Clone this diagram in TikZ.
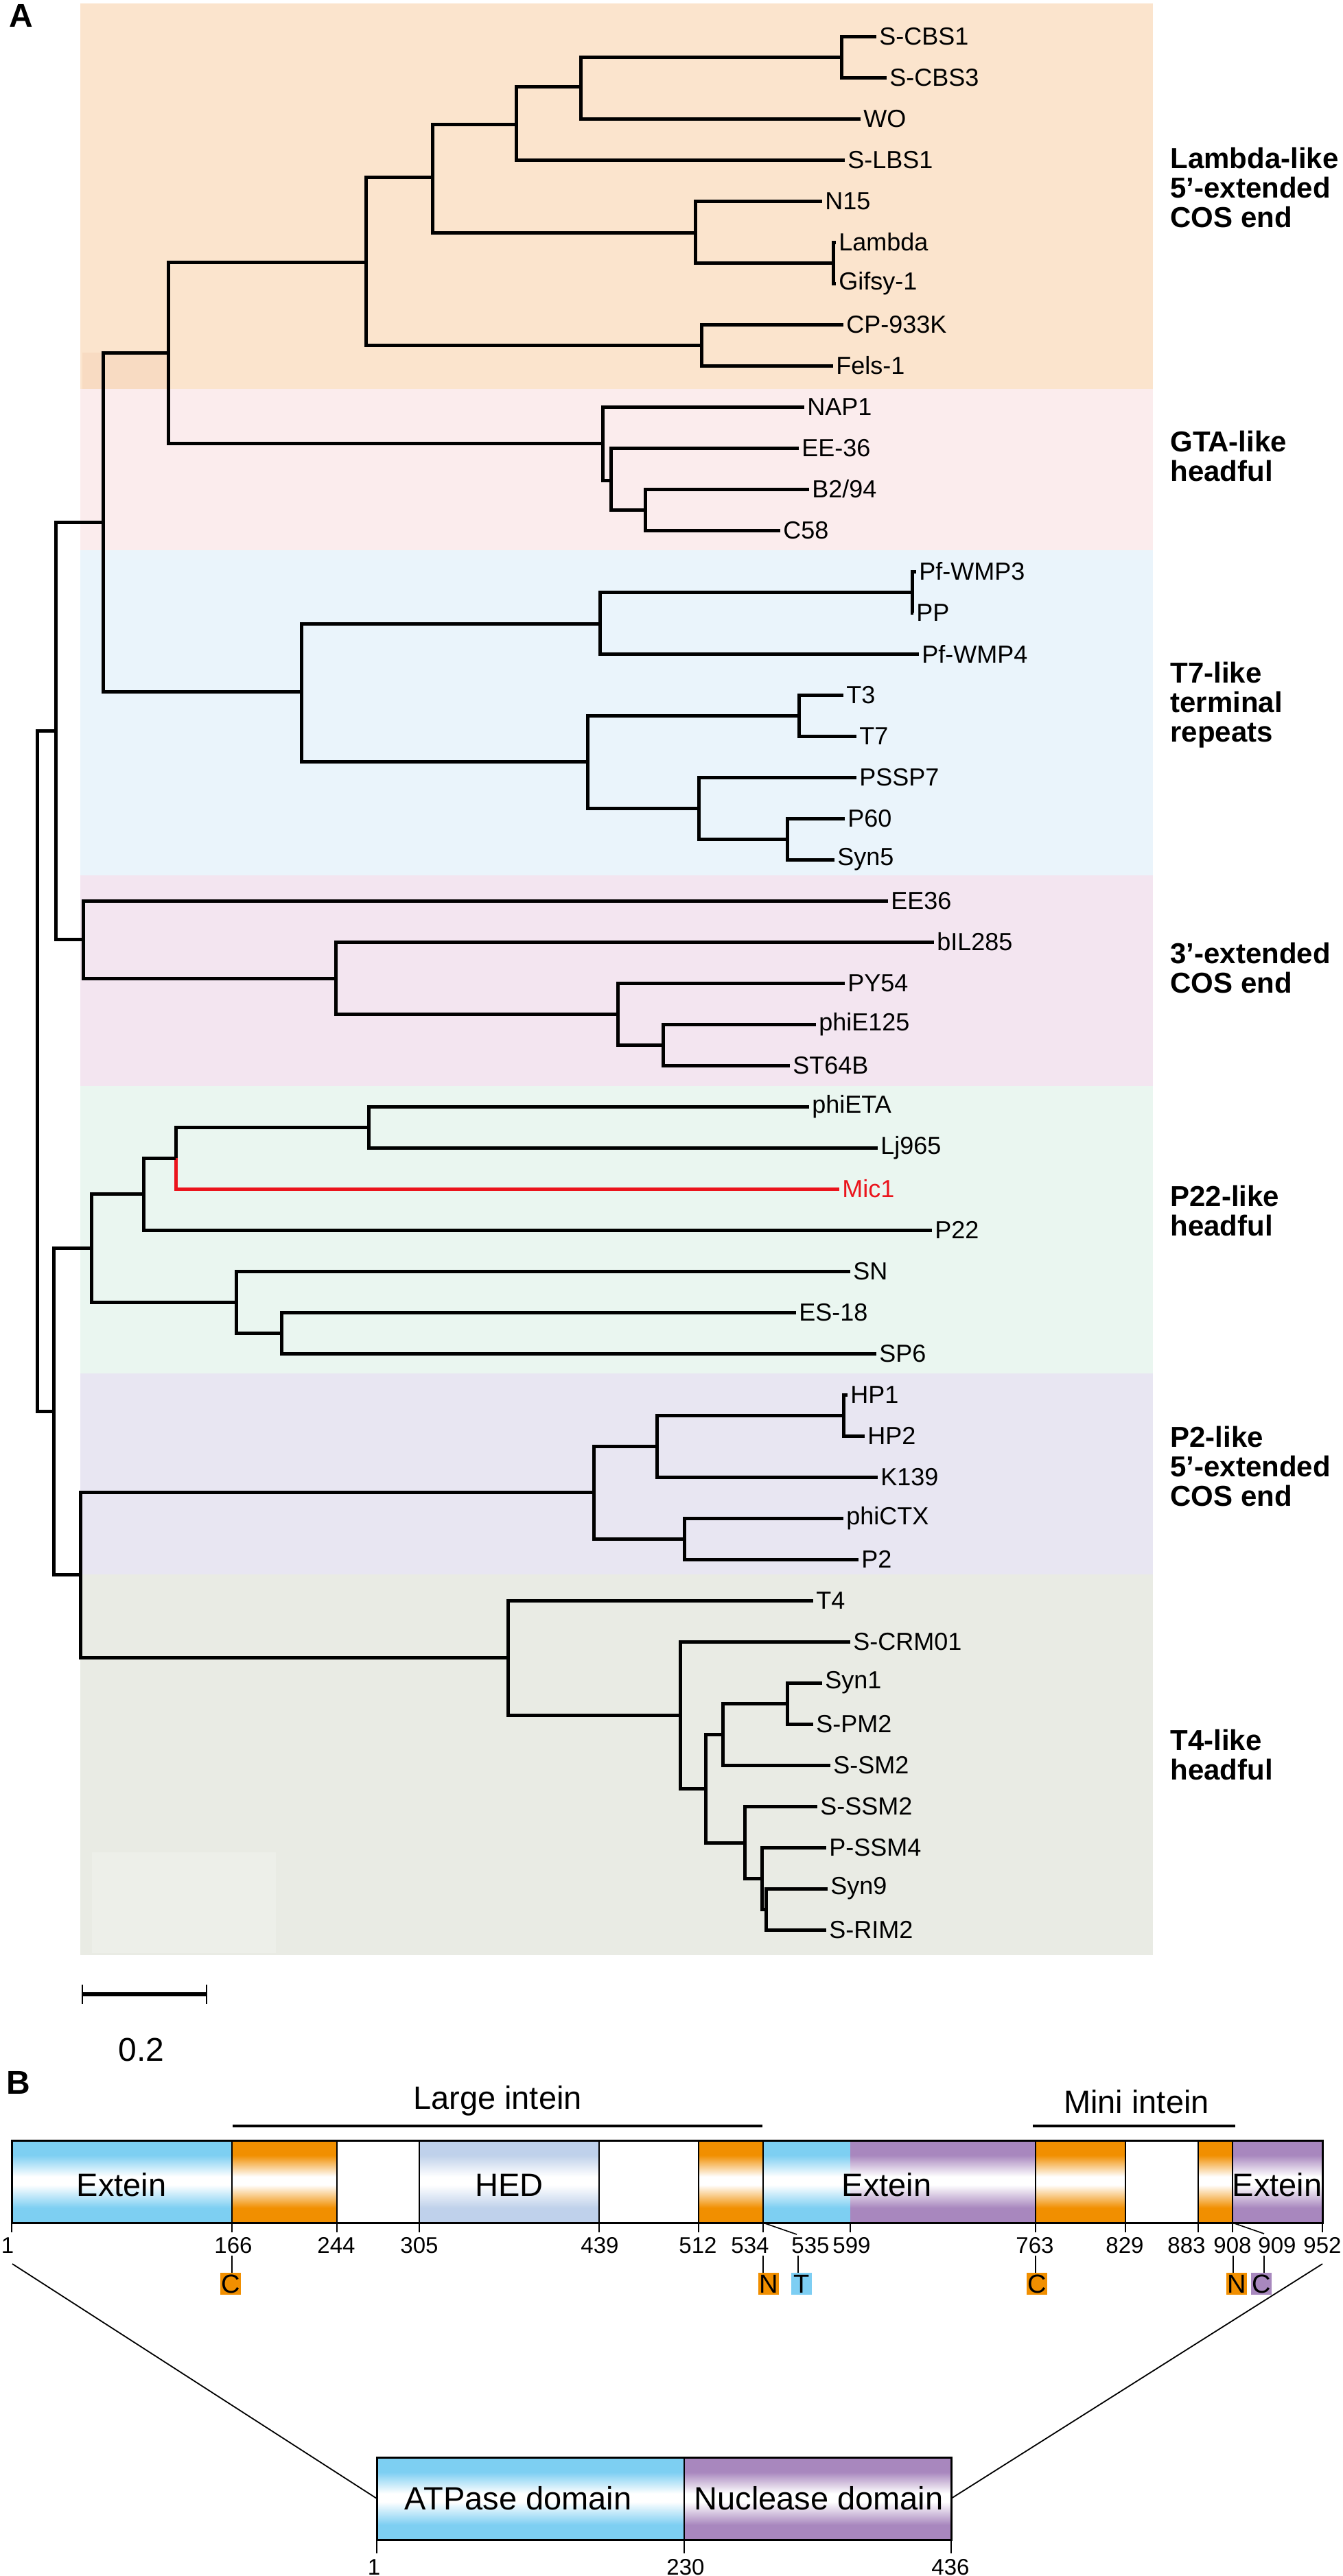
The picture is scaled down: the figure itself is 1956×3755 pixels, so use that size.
\documentclass[tikz,border=0pt]{standalone}
\usepackage{fontspec}
\setmainfont{Liberation Sans}
\definecolor{bandL}{RGB}{251,228,205}
\definecolor{bandLd}{RGB}{248,219,194}
\definecolor{bandG}{RGB}{251,236,237}
\definecolor{bandT}{RGB}{234,244,251}
\definecolor{bandE}{RGB}{243,229,240}
\definecolor{bandP}{RGB}{234,246,240}
\definecolor{bandQ}{RGB}{232,230,242}
\definecolor{bandR}{RGB}{233,235,228}
\definecolor{bandRl}{RGB}{237,239,233}
\definecolor{corange}{RGB}{241,143,0}
\definecolor{cblue}{RGB}{125,206,243}
\definecolor{cpurple}{RGB}{168,136,190}
\definecolor{micred}{RGB}{235,20,28}
\pgfdeclareverticalshading{shblue}{100bp}{rgb(0bp)=(0.49,0.81,0.95); rgb(34bp)=(0.49,0.81,0.95); rgb(48bp)=(1,1,1); rgb(53bp)=(1,1,1); rgb(66bp)=(0.49,0.81,0.95); rgb(100bp)=(0.49,0.81,0.95)}
\pgfdeclareverticalshading{shorange}{100bp}{rgb(0bp)=(0.945,0.56,0); rgb(34bp)=(0.945,0.56,0); rgb(48bp)=(1,1,1); rgb(53bp)=(1,1,1); rgb(66bp)=(0.945,0.56,0); rgb(100bp)=(0.945,0.56,0)}
\pgfdeclareverticalshading{shhed}{100bp}{rgb(0bp)=(0.75,0.82,0.92); rgb(34bp)=(0.75,0.82,0.92); rgb(48bp)=(1,1,1); rgb(53bp)=(1,1,1); rgb(66bp)=(0.75,0.82,0.92); rgb(100bp)=(0.75,0.82,0.92)}
\pgfdeclareverticalshading{shpurple}{100bp}{rgb(0bp)=(0.66,0.53,0.745); rgb(34bp)=(0.66,0.53,0.745); rgb(48bp)=(1,1,1); rgb(53bp)=(1,1,1); rgb(66bp)=(0.66,0.53,0.745); rgb(100bp)=(0.66,0.53,0.745)}
\begin{document}
\begin{tikzpicture}[x=0.5pt,y=-0.5pt,
  br/.style={line width=2.5pt, line join=miter},
  leaf/.style={anchor=west, inner xsep=2pt, inner ysep=0pt, font=\fontsize{18}{20}\selectfont},
  grp/.style={anchor=west, align=left, inner sep=0pt, font=\fontsize{21}{21.5}\selectfont\bfseries},
  num/.style={inner sep=0pt, font=\fontsize{16.5}{17}\selectfont},
  blab/.style={inner sep=0pt, font=\fontsize{23.5}{23.5}\selectfont},
  lbox/.style={inner sep=0pt, minimum width=15pt, minimum height=16pt, text height=13.6pt, text depth=0pt, font=\fontsize{19}{19}\selectfont},
  tk/.style={line width=0.8pt},
  panel/.style={inner sep=0pt, font=\fontsize{24}{24}\selectfont\bfseries}]
\useasboundingbox (0,0) rectangle (1956,3755);
% ---------- bands ----------
\fill[bandL] (117,5) rectangle (1680,567);
\fill[bandLd] (120,514) rectangle (245,567);
\fill[bandG] (117,567) rectangle (1680,802);
\fill[bandT] (117,802) rectangle (1680,1276);
\fill[bandE] (117,1276) rectangle (1680,1583);
\fill[bandP] (117,1583) rectangle (1680,2002);
\fill[bandQ] (117,2002) rectangle (1680,2295);
\fill[bandR] (117,2295) rectangle (1680,2850);
\fill[bandRl] (134,2700) rectangle (402,2847);
\node[panel] (A) at (31,23) {A};
% ---------- leaves ----------
\node[leaf] (l0) at (1277,53) {S-CBS1};
\node[leaf] (l1) at (1292,113) {S-CBS3};
\node[leaf] (l2) at (1254,173) {WO};
\node[leaf] (l3) at (1231,233) {S-LBS1};
\node[leaf] (l4) at (1198,293) {N15};
\node[leaf] (l5) at (1218,353) {Lambda};
\node[leaf] (l6) at (1218,413) {Gifsy-1};
\node[leaf] (l7) at (1229,473) {CP-933K};
\node[leaf] (l8) at (1214,533) {Fels-1};
\node[leaf] (l9) at (1172,593) {NAP1};
\node[leaf] (l10) at (1164,653) {EE-36};
\node[leaf] (l11) at (1179,713) {B2/94};
\node[leaf] (l12) at (1137,773) {C58};
\node[leaf] (l13) at (1335,833) {Pf-WMP3};
\node[leaf] (l14) at (1331,893) {PP};
\node[leaf] (l15) at (1339,953) {Pf-WMP4};
\node[leaf] (l16) at (1229,1013) {T3};
\node[leaf] (l17) at (1248,1073) {T7};
\node[leaf] (l18) at (1248,1133) {PSSP7};
\node[leaf] (l19) at (1231,1193) {P60};
\node[leaf] (l20) at (1216,1253) {Syn5};
\node[leaf] (l21) at (1294,1313) {EE36};
\node[leaf] (l22) at (1361,1373) {bIL285};
\node[leaf] (l23) at (1231,1433) {PY54};
\node[leaf] (l24) at (1189,1493) {phiE125};
\node[leaf] (l25) at (1151,1553) {ST64B};
\node[leaf] (l26) at (1179,1613) {phiETA};
\node[leaf] (l27) at (1279,1673) {Lj965};
\node[leaf, text=micred] (l28) at (1223,1733) {Mic1};
\node[leaf] (l29) at (1358,1793) {P22};
\node[leaf] (l30) at (1239,1853) {SN};
\node[leaf] (l31) at (1160,1913) {ES-18};
\node[leaf] (l32) at (1277,1973) {SP6};
\node[leaf] (l33) at (1235,2033) {HP1};
\node[leaf] (l34) at (1260,2093) {HP2};
\node[leaf] (l35) at (1279,2153) {K139};
\node[leaf] (l36) at (1229,2213) {phiCTX};
\node[leaf] (l37) at (1251,2273) {P2};
\node[leaf] (l38) at (1185,2333) {T4};
\node[leaf] (l39) at (1239,2393) {S-CRM01};
\node[leaf] (l40) at (1198,2453) {Syn1};
\node[leaf] (l41) at (1185,2513) {S-PM2};
\node[leaf] (l42) at (1210,2573) {S-SM2};
\node[leaf] (l43) at (1191,2633) {S-SSM2};
\node[leaf] (l44) at (1204,2693) {P-SSM4};
\node[leaf] (l45) at (1206,2753) {Syn9};
\node[leaf] (l46) at (1204,2813) {S-RIM2};
% ---------- internal nodes ----------
\coordinate (c1) at (1226,83);
\coordinate (c2) at (846,126);
\coordinate (c3) at (752,181);
\coordinate (c4) at (1214,383);
\coordinate (c5) at (1013,339);
\coordinate (c6) at (630,258);
\coordinate (c7) at (1022,503);
\coordinate (c8) at (533,382);
\coordinate (g1) at (940,743);
\coordinate (g2) at (890,700);
\coordinate (g3) at (878,646);
\coordinate (lg) at (245,514);
\coordinate (t1) at (1329,863);
\coordinate (t2) at (874,909);
\coordinate (t3) at (1164,1043);
\coordinate (t4) at (1147,1223);
\coordinate (t5) at (1018,1178);
\coordinate (t6) at (856,1110);
\coordinate (t7) at (439,1008);
\coordinate (a1) at (150,761);
\coordinate (e1) at (966,1523);
\coordinate (e2) at (900,1478);
\coordinate (e3) at (489,1426);
\coordinate (e4) at (121,1369);
\coordinate (a2) at (81,1065);
\coordinate (p1) at (537,1643);
\coordinate (p2) at (256,1688);
\coordinate (p3) at (209,1740);
\coordinate (p4) at (410,1943);
\coordinate (p5) at (344,1898);
\coordinate (p6) at (133,1819);
\coordinate (q1) at (1229,2063);
\coordinate (q2) at (957,2108);
\coordinate (q3) at (997,2243);
\coordinate (q4) at (865,2175);
\coordinate (r1) at (1147,2483);
\coordinate (r2) at (1053,2528);
\coordinate (r3) at (1116,2783);
\coordinate (r4) at (1110,2738);
\coordinate (r5) at (1085,2686);
\coordinate (r6) at (1028,2607);
\coordinate (r7) at (991,2500);
\coordinate (r8) at (740,2416);
\coordinate (b1) at (117,2295);
\coordinate (b2) at (78,2057);
\coordinate (root) at (54,1561);
% ---------- branches ----------
\draw[br] (c1) |- (l0.west); \draw[br] (c1) |- (l1.west);
\draw[br] (c2) |- (c1); \draw[br] (c2) |- (l2.west);
\draw[br] (c3) |- (c2); \draw[br] (c3) |- (l3.west);
\draw[br] (c4) |- (l5.west); \draw[br] (c4) |- (l6.west);
\draw[br] (c5) |- (l4.west); \draw[br] (c5) |- (c4);
\draw[br] (c6) |- (c3); \draw[br] (c6) |- (c5);
\draw[br] (c7) |- (l7.west); \draw[br] (c7) |- (l8.west);
\draw[br] (c8) |- (c6); \draw[br] (c8) |- (c7);
\draw[br] (g1) |- (l11.west); \draw[br] (g1) |- (l12.west);
\draw[br] (g2) |- (l10.west); \draw[br] (g2) |- (g1);
\draw[br] (g3) |- (l9.west); \draw[br] (g3) |- (g2);
\draw[br] (lg) |- (c8); \draw[br] (lg) |- (g3);
\draw[br] (t1) |- (l13.west); \draw[br] (t1) |- (l14.west);
\draw[br] (t2) |- (t1); \draw[br] (t2) |- (l15.west);
\draw[br] (t3) |- (l16.west); \draw[br] (t3) |- (l17.west);
\draw[br] (t4) |- (l19.west); \draw[br] (t4) |- (l20.west);
\draw[br] (t5) |- (l18.west); \draw[br] (t5) |- (t4);
\draw[br] (t6) |- (t3); \draw[br] (t6) |- (t5);
\draw[br] (t7) |- (t2); \draw[br] (t7) |- (t6);
\draw[br] (a1) |- (lg); \draw[br] (a1) |- (t7);
\draw[br] (e1) |- (l24.west); \draw[br] (e1) |- (l25.west);
\draw[br] (e2) |- (l23.west); \draw[br] (e2) |- (e1);
\draw[br] (e3) |- (l22.west); \draw[br] (e3) |- (e2);
\draw[br] (e4) |- (l21.west); \draw[br] (e4) |- (e3);
\draw[br] (a2) |- (a1); \draw[br] (a2) |- (e4);
\draw[br] (p1) |- (l26.west); \draw[br] (p1) |- (l27.west);
\draw[br] (p2) |- (p1); \draw[br, draw=micred] (p2) |- (l28.west);
\draw[br] (p3) |- (p2); \draw[br] (p3) |- (l29.west);
\draw[br] (p4) |- (l31.west); \draw[br] (p4) |- (l32.west);
\draw[br] (p5) |- (l30.west); \draw[br] (p5) |- (p4);
\draw[br] (p6) |- (p3); \draw[br] (p6) |- (p5);
\draw[br] (q1) |- (l33.west); \draw[br] (q1) |- (l34.west);
\draw[br] (q2) |- (q1); \draw[br] (q2) |- (l35.west);
\draw[br] (q3) |- (l36.west); \draw[br] (q3) |- (l37.west);
\draw[br] (q4) |- (q2); \draw[br] (q4) |- (q3);
\draw[br] (r1) |- (l40.west); \draw[br] (r1) |- (l41.west);
\draw[br] (r2) |- (r1); \draw[br] (r2) |- (l42.west);
\draw[br] (r3) |- (l45.west); \draw[br] (r3) |- (l46.west);
\draw[br] (r4) |- (l44.west); \draw[br] (r4) |- (r3);
\draw[br] (r5) |- (l43.west); \draw[br] (r5) |- (r4);
\draw[br] (r6) |- (r2); \draw[br] (r6) |- (r5);
\draw[br] (r7) |- (l39.west); \draw[br] (r7) |- (r6);
\draw[br] (r8) |- (l38.west); \draw[br] (r8) |- (r7);
\draw[br] (b1) |- (q4); \draw[br] (b1) |- (r8);
\draw[br] (b2) |- (p6); \draw[br] (b2) |- (b1);
\draw[br] (root) |- (a2); \draw[br] (root) |- (b2);
% ---------- group labels ----------
\node[grp] (gL) at (1705,273) {Lambda-like\\5’-extended\\COS end};
\node[grp] (gG) at (1705,665) {GTA-like\\headful};
\node[grp] (gT) at (1705,1028) {T7-like\\terminal\\repeats};
\node[grp] (gE) at (1705,1411) {3’-extended\\COS end};
\node[grp] (gP) at (1705,1765) {P22-like\\headful};
\node[grp] (gQ) at (1705,2137) {P2-like\\5’-extended\\COS end};
\node[grp] (gR) at (1705,2558) {T4-like\\headful};
% ---------- scale bar ----------
\coordinate (sb1) at (120,2907);
\coordinate (sb2) at (301,2907);
\draw[line width=3.2pt] (sb1) -- (sb2);
\draw[line width=1pt] ([yshift=7pt]sb1) -- ([yshift=-7pt]sb1);
\draw[line width=1pt] ([yshift=7pt]sb2) -- ([yshift=-7pt]sb2);
\node[inner sep=0pt, font=\fontsize{24}{24}\selectfont] (sbl) at (206,2988) {0.2};
% ================= Panel B =================
\node[panel] (B) at (27,3036) {B};
\draw[line width=1.7pt] (339,3099) -- (1111,3099);
\node[blab, anchor=base] (li) at (725,3074) {Large intein};
\draw[line width=1.7pt] (1505,3099) -- (1800,3099);
\node[blab, anchor=base] (mi) at (1656,3080) {Mini intein};
\foreach \a/\b/\s in {17/338/shblue, 338/491/shorange, 611/873/shhed, 1018/1112/shorange, 1112/1239/shblue, 1239/1509/shpurple, 1509/1640/shorange, 1746/1796/shorange, 1796/1927/shpurple}
  \shade[shading=\s] (\a,3120) rectangle (\b,3240);
\foreach \x in {338,491,611,873,1018,1112,1509,1640,1746,1796}
  \draw[line width=1pt] (\x,3120) -- (\x,3240);
\draw[line width=1.5pt] (17,3120) rectangle (1927,3240);
\node[blab] (x1) at (177,3185) {Extein};
\node[blab] (hed) at (742,3185) {HED};
\node[blab] (x2) at (1292,3185) {Extein};
\node[blab] (x3) at (1861,3185) {Extein};
% ticks
\foreach \x in {17,338,491,611,873,1018,1112,1239,1509,1640,1746,1796,1927}
  \draw[tk] (\x,3240) -- (\x,3254);
\draw[tk] (1112,3240) -- (1161,3257);
\draw[tk] (1796,3240) -- (1842,3256);
% numbers
\node[num] (n1) at (11,3273) {1};
\node[num] (n166) at (340,3273) {166};
\node[num] (n244) at (490,3273) {244};
\node[num] (n305) at (611,3273) {305};
\node[num] (n439) at (874,3273) {439};
\node[num] (n512) at (1017,3273) {512};
\node[num] (n534) at (1093,3273) {534};
\node[num] (n535) at (1181,3273) {535};
\node[num] (n599) at (1241,3273) {599};
\node[num] (n763) at (1508,3273) {763};
\node[num] (n829) at (1639,3273) {829};
\node[num] (n883) at (1729,3273) {883};
\node[num] (n908) at (1796,3273) {908};
\node[num] (n909) at (1861,3273) {909};
\node[num] (n952) at (1927,3273) {952};
% letter boxes
\node[lbox, fill=corange] (bC1) at (336,3329) {C};
\node[lbox, fill=corange] (bN1) at (1120,3329) {N};
\node[lbox, fill=cblue] (bT) at (1168,3329) {T};
\node[lbox, fill=corange] (bC2) at (1511,3329) {C};
\node[lbox, fill=corange] (bN2) at (1802,3329) {N};
\node[lbox, fill=cpurple] (bC3) at (1838,3329) {C};
\draw[tk] (338,3288) -- (338,3313);
\draw[tk] (1112,3288) -- (1112,3313);
\draw[tk] (1163,3288) -- (1163,3313);
\draw[tk] (1509,3288) -- (1509,3313);
\draw[tk] (1797,3288) -- (1797,3313);
\draw[tk] (1842,3288) -- (1842,3313);
% bottom domain box
\shade[shading=shblue] (549,3582) rectangle (997,3702);
\shade[shading=shpurple] (997,3582) rectangle (1386,3702);
\draw[line width=1pt] (997,3582) -- (997,3702);
\draw[line width=1.5pt] (549,3582) rectangle (1386,3702);
\coordinate (dl) at (549,3642);
\coordinate (dr) at (1386,3642);
\coordinate (ul) at (18,3300);
\coordinate (ur) at (1927,3300);
\draw[line width=0.9pt] (ul) -- (dl);
\draw[line width=0.9pt] (ur) -- (dr);
\node[blab] (atp) at (755,3642) {ATPase domain};
\node[blab] (nuc) at (1193,3642) {Nuclease domain};
\foreach \x in {549,997,1386}
  \draw[tk] (\x,3702) -- (\x,3722);
\node[num] (m1) at (545,3742) {1};
\node[num] (m230) at (999,3742) {230};
\node[num] (m436) at (1385,3742) {436};
\end{tikzpicture}
\end{document}
